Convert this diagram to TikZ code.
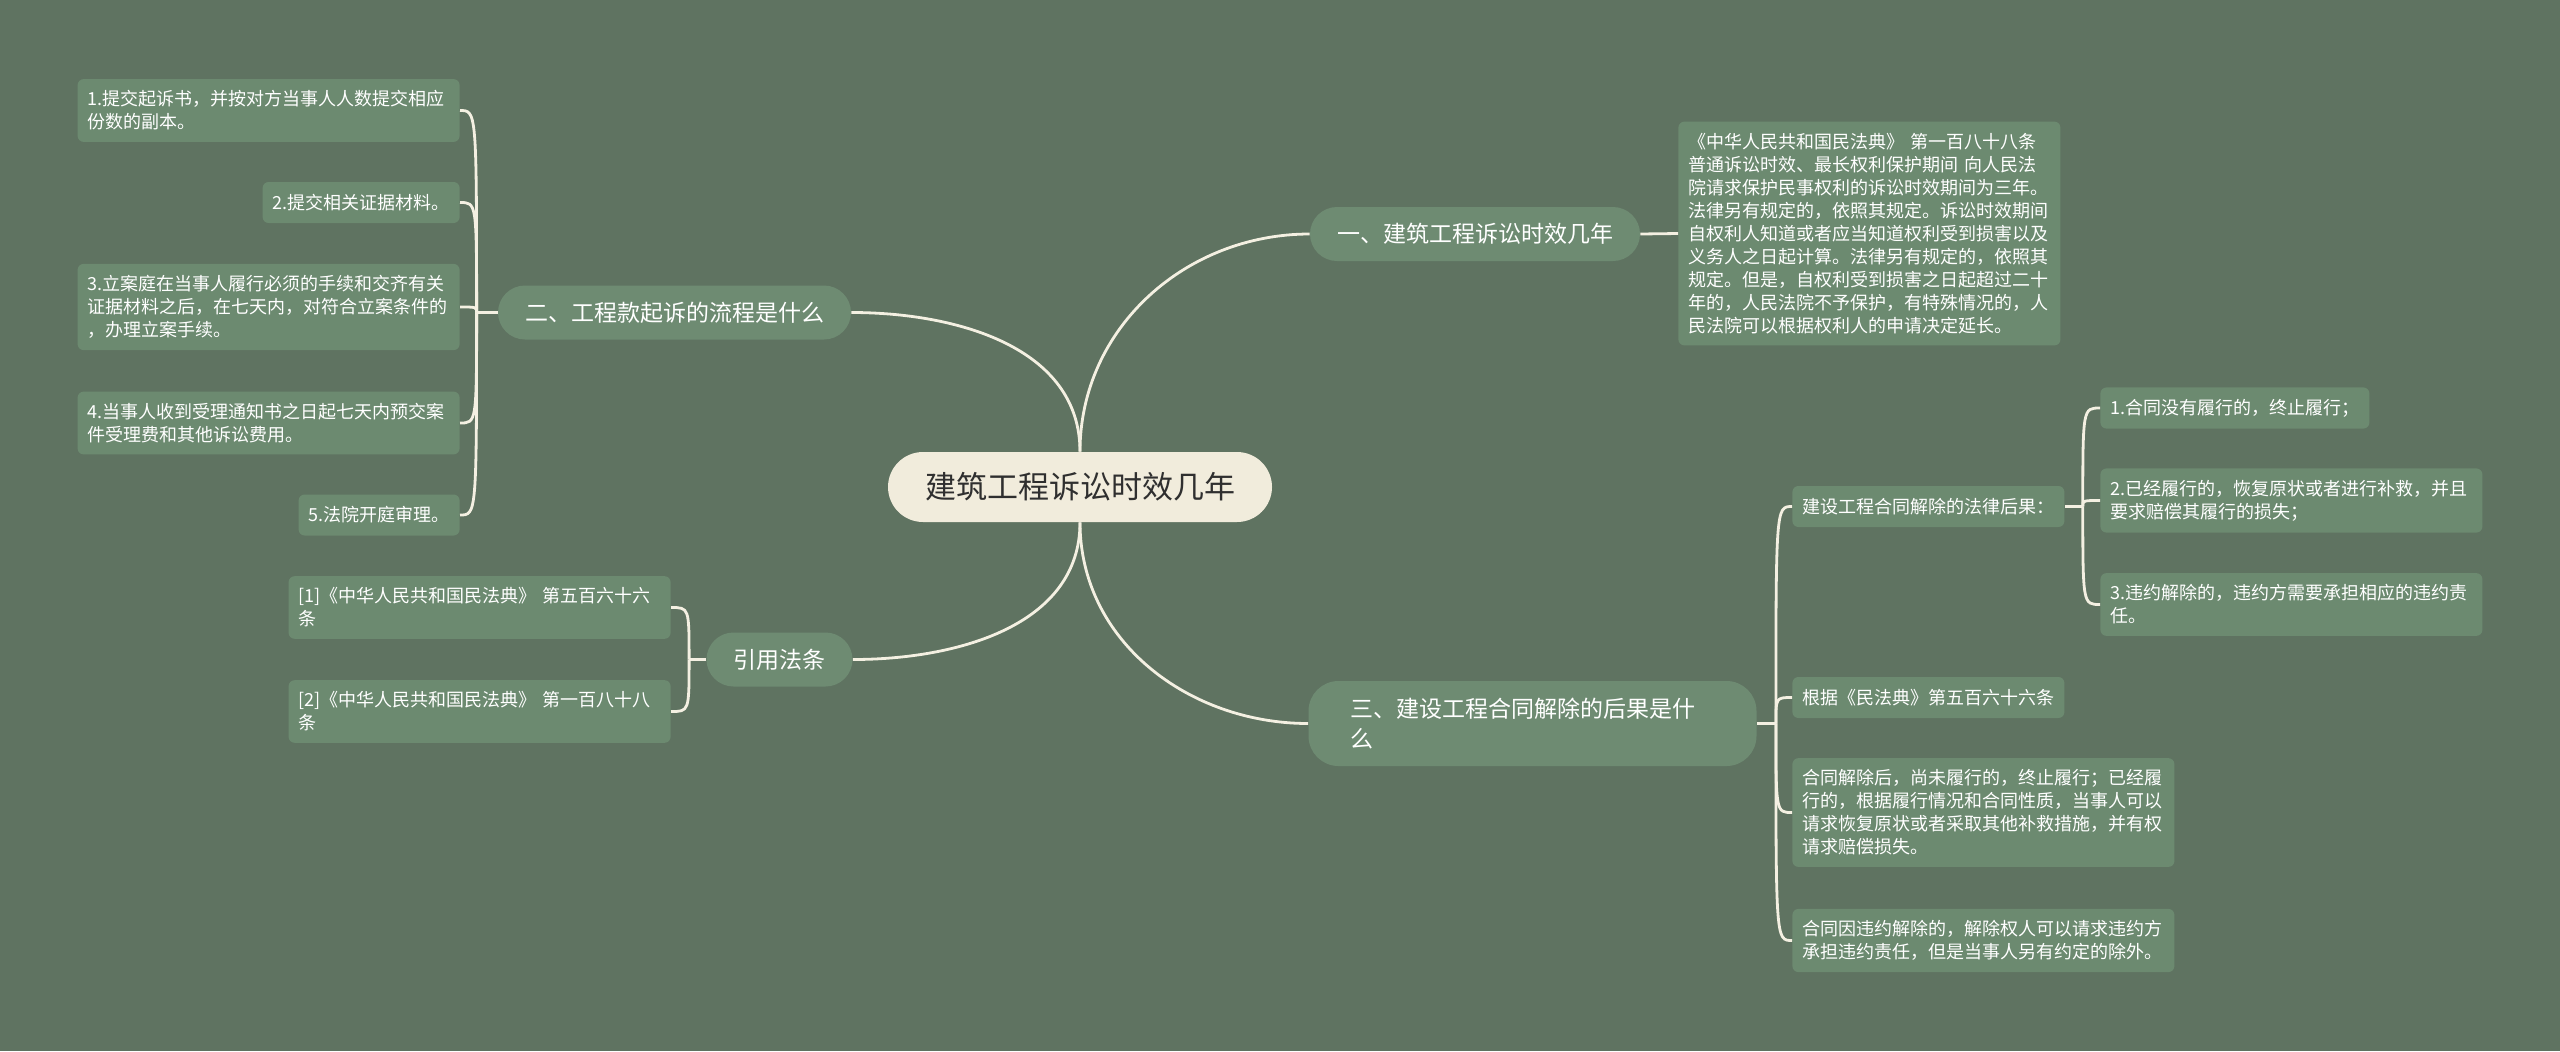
\documentclass[tikz,border=0pt]{standalone}
\usepackage{fontspec}
\setmainfont{Noto Sans CJK SC}
\usepackage{tikz}
\newcommand{\mapScale}{1.0}
\definecolor{mapbg}{HTML}{5F7361}
\definecolor{nodefill}{HTML}{6E8B72}
\definecolor{leaffill}{HTML}{6C8A70}
\definecolor{rootfill}{HTML}{F1ECDC}
\definecolor{rootink}{HTML}{2F2F2F}
\definecolor{linkink}{HTML}{F4F0E2}
\tikzset{
  root/.style={rounded corners=17.5pt, fill=rootfill, text=rootink,
    font=\fontsize{15.5}{18}\selectfont, inner xsep=18.5pt,
    minimum height=35pt},
  branch/.style={rounded corners=13.5pt, fill=nodefill, text=white,
    font=\fontsize{11.5}{15}\selectfont, inner xsep=13.5pt,
    minimum height=27pt},
  leaf/.style={rounded corners=3pt, fill=leaffill, text=white,
    font=\fontsize{9}{11.5}\selectfont, align=left, inner xsep=5pt,
    inner ysep=5.75pt, minimum height=20.5pt},
  wide/.style={text width=181pt},
  link/.style={draw=linkink, line width=1.4pt},
}
\begin{document}
\begin{tikzpicture}[x=0.5pt, y=-0.5pt, scale=\mapScale]
  \fill[mapbg] (0,0) rectangle (2560,1051);
  \useasboundingbox (0,0) rectangle (2560,1051);

  \node[root] (root) at (1080,487) {建筑工程诉讼时效几年};

  \node[branch] (one) at (1475,234) {一、建筑工程诉讼时效几年};
  \node[branch] (two) at (674.5,312.5) {二、工程款起诉的流程是什么};
  \node[branch] (cite) at (779.5,659.5) {引用法条};
  \node[branch, rounded corners=15pt, align=left, text width=182pt,
        inner xsep=21pt, minimum height=42.5pt] (three) at (1532.5,723.5)
        {三、建设工程合同解除的后果是什\\么};

  \node[leaf, wide, anchor=west] (oneleaf) at (1678,233.5)
    {《中华人民共和国民法典》 第一百八十八条\\普通诉讼时效、最长权利保护期间 向人民法\\院请求保护民事权利的诉讼时效期间为三年。\\法律另有规定的，依照其规定。诉讼时效期间\\自权利人知道或者应当知道权利受到损害以及\\义务人之日起计算。法律另有规定的，依照其\\规定。但是，自权利受到损害之日起超过二十\\年的，人民法院不予保护，有特殊情况的，人\\民法院可以根据权利人的申请决定延长。};

  \node[leaf, wide, anchor=east] (twoa) at (460,110.5)
    {1.提交起诉书，并按对方当事人人数提交相应\\份数的副本。};
  \node[leaf, anchor=east] (twob) at (460,202.5) {2.提交相关证据材料。};
  \node[leaf, wide, anchor=east] (twoc) at (460,307)
    {3.立案庭在当事人履行必须的手续和交齐有关\\证据材料之后，在七天内，对符合立案条件的\\，办理立案手续。};
  \node[leaf, wide, anchor=east] (twod) at (460,423)
    {4.当事人收到受理通知书之日起七天内预交案\\件受理费和其他诉讼费用。};
  \node[leaf, anchor=east] (twoe) at (460,515) {5.法院开庭审理。};

  \node[leaf, wide, anchor=east] (citea) at (671,607.5)
    {[1]《中华人民共和国民法典》 第五百六十六\\条};
  \node[leaf, wide, anchor=east] (citeb) at (671,711.5)
    {[2]《中华人民共和国民法典》 第一百八十八\\条};

  \node[leaf, anchor=west] (threea) at (1792,506.5) {建设工程合同解除的法律后果：};
  \node[leaf, anchor=west] (threeb) at (1792,697.5) {根据《民法典》第五百六十六条};
  \node[leaf, wide, anchor=west] (threec) at (1792,812.5)
    {合同解除后，尚未履行的，终止履行；已经履\\行的，根据履行情况和合同性质，当事人可以\\请求恢复原状或者采取其他补救措施，并有权\\请求赔偿损失。};
  \node[leaf, wide, anchor=west] (threed) at (1792,940.5)
    {合同因违约解除的，解除权人可以请求违约方\\承担违约责任，但是当事人另有约定的除外。};

  \node[leaf, anchor=west] (rulea) at (2100,408) {1.合同没有履行的，终止履行；};
  \node[leaf, wide, anchor=west] (ruleb) at (2100,500.5)
    {2.已经履行的，恢复原状或者进行补救，并且\\要求赔偿其履行的损失；};
  \node[leaf, wide, anchor=west] (rulec) at (2100,604.5)
    {3.违约解除的，违约方需要承担相应的违约责\\任。};

  \draw[link] (root.north) to[out=90,in=180] (one.west);
  \draw[link] (root.north) to[out=90,in=0] (two.east);
  \draw[link] (root.south) to[out=-90,in=0] (cite.east);
  \draw[link] (root.south) to[out=-90,in=180] (three.west);

  \draw[link] (one.east) -- (oneleaf.west);

  \coordinate (twoj) at ([xshift=-10.5pt]two.west);
  \draw[link] (two.west) -- (twoj);
  \foreach \kid in {twoa,twob,twoc,twod,twoe}
    \draw[link] (twoj) .. controls (twoj |- \kid.east) .. (\kid.east);

  \coordinate (citej) at ([xshift=-8.5pt]cite.west);
  \draw[link] (cite.west) -- (citej);
  \foreach \kid in {citea,citeb}
    \draw[link] (citej) .. controls (citej |- \kid.east) .. (\kid.east);

  \coordinate (threej) at ([xshift=9.5pt]three.east);
  \draw[link] (three.east) -- (threej);
  \foreach \kid in {threea,threeb,threec,threed}
    \draw[link] (threej) .. controls (threej |- \kid.west) .. (\kid.west);

  \coordinate (rulej) at ([xshift=9pt]threea.east);
  \draw[link] (threea.east) -- (rulej);
  \foreach \kid in {rulea,ruleb,rulec}
    \draw[link] (rulej) .. controls (rulej |- \kid.west) .. (\kid.west);
\end{tikzpicture}
\end{document}
